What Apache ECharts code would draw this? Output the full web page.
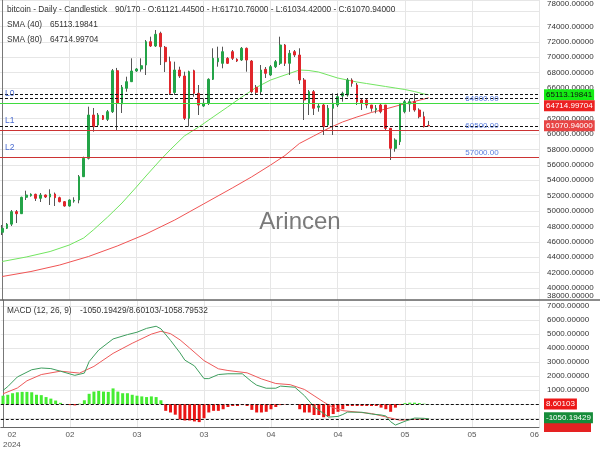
<!DOCTYPE html>
<html><head><meta charset="utf-8">
<script src="https://cdn.jsdelivr.net/npm/echarts@6/dist/echarts.min.js"></script>
<style>html,body{margin:0;padding:0;background:#fff}#c{width:600px;height:450px}</style>
</head><body><div id="c"></div>
<script>
// ---- data (day index 0 = 10 Feb 2024) ----
const opens  = [47231,47751,48290,49909,49649,51781,51990,52171,51651,52080,51820,52210,51729,51209,50650,51290,51430,54459,56851,62480,61180,62389,61921,62909,68239,63910,65951,66809,68200,68460,68980,72009,71450,73101,71281,69409,65400,68330,67550,62051,68240,65301,63650,64001,67121,69400,69200,69850,70710,69720,69630,71151,69500,66081,65509,68421,67680,68759,69201,71580,69201,70709,70280,67030,64001,65509,63481,63780,61180,63351,63780,64950,65080,67030,66380,64430,64430,63780,63130,63780,63780,60751,58151,59009,62909,63910,64209,63130,62259,61121.445];
const closes = [47751,48271,49909,49649,51781,52080,52171,51651,52080,51820,52210,51729,51209,50650,51430,51380,54459,56851,62480,60959,62480,61921,62909,68239,64001,66081,66809,68200,68460,68889,72009,71450,72971,71359,69409,65301,68330,67550,62051,68110,65301,63780,64001,67121,69851,69850,70710,69200,69850,69500,71151,69630,65509,65431,68330,67901,68759,69409,71580,69201,70501,70280,67030,64430,65509,63351,63650,60959,63351,64001,64859,65301,67030,66601,64209,64001,63780,63351,63351,62909,60751,58151,59230,64001,64209,64209,63130,62259,60959,61070.94];
const lows   = [46880,47660,48050,48440,49610,51430,51859,51300,51170,51690,50780,50650,51131,50559,50559,51080,51001,54420,56700,60309,60920,61830,61700,62740,60439,62740,65509,66770,68070,68109,67680,71320,71320,68980,68070,65080,65080,67300,61830,60959,64859,62480,63520,63780,67030,68760,68550,69110,69630,69370,69500,68109,65301,65080,65080,67290,67550,68590,68980,68850,67680,70020,66510,61830,62480,62480,62909,59880,60959,59880,63520,64209,64859,66159,63780,63130,63351,62909,62701,62701,60530,56630,57709,58580,62701,62900,62909,62051,60850,61034.42];
const highs  = [48180,48440,50130,50130,51859,52639,52301,52250,52340,52145,52821,52400,51859,51300,51521,51781,54680,57059,63559,63390,62740,62480,63130,68460,68600,66380,67459,69851,68590,69851,72230,72659,73530,73309,71450,70059,69409,68759,68110,68240,68370,66380,64651,67251,71151,71360,71360,70000,70930,69850,71320,71255,69630,66380,68980,68720,68980,69630,72659,71710,70930,70930,71151,67290,65730,65730,64001,64040,63780,65301,65301,65509,67290,67251,66640,64690,64651,63780,63780,64001,63780,60751,59451,64001,64430,64600,65301,63351,62909,61710.76];

const sma40Days = [0,5,10,14,17,19,22,25,28,30,33,35,38,41,44,47,50,53,56,59,62,64,66,68,70,72,74,76,78,80,82,84,86,88,89];
const sma40Vals = [43435,44020,44735,45580,46490,47530,49220,51040,53120,54550,56630,57930,59750,60920,62220,63507,64820,66055,67030,67680,68330,68265,68070,67680,67290,67030,66770,66575,66380,66185,65990,65795,65535,65210,65113.19841];
const sma80Days = [0,6,12,18,24,30,36,42,48,52,56,59,62,65,68,71,74,77,80,83,86,89];
const sma80Vals = [41485,42135,42980,44085,45450,47010,48830,50910,52990,54420,55980,57215,58775,59750,60725,61570,62220,62805,63260,63780,64235,64714.99704];

const macdDays = [0,1,3,6,8,10,12,15,17,18,20,23,26,28,30,32,33,35,37,38,40,42,43,45,47,50,52,53,55,57,58,61,63,65,67,68,70,71,72,75,77,79,80,81,82,84,86,88,89];
const macdVals = [973,1247,1932,2445,2569,2528,2343,2048,2206,3028,3850,4637,4946,5117,5391,5542,5357,4535,3644,3130,2720,1815,1815,2103,2158,2158,1589,1349,1130,1130,1281,1199,596,-192,-671,-925,-877,-740,-569,-582,-706,-774,-843,-1254,-1493,-1219,-993,-1014,-1050.19429];
const signalDays = [0,3,5,8,12,16,19,23,27,31,33,35,37,39,42,45,47,51,54,57,60,63,65,67,69,71,74,77,80,83,86,89];
const signalVals = [733,1144,1658,2103,2343,2206,2685,3610,4329,4980,5185,5014,4569,3987,3096,2514,2391,2226,1795,1466,1384,1041,596,151,-260,-466,-569,-671,-911,-1151,-1082,-1058.79532];
const histVals = [596,664,774,842,870,870,842,664,637,500,390,253,90,0,-70,-90,30,274,733,890,938,890,870,1117,890,774,774,664,596,548,500,548,500,274,-479,-596,-753,-1096,-1165,-1165,-1233,-1281,-1007,-596,-479,-479,-365,-205,-137,-137,-70,-137,-411,-596,-596,-548,-365,-205,-70,-20,0,0,-365,-596,-596,-776,-776,-936,-868,-708,-548,-365,-137,-137,-137,-137,-137,-137,-137,-251,-365,-548,-251,-70,70,100,100,70,30,8.60103];

const tickDays = [0,14,28,42,56,70,84,98,112];
const tickLabels = ['02','02','03','03','04','04','05','05','06'];
const yearLabel = '2024';

const sma40Last = 65113.19841, sma80Last = 64714.99704, lastClose = 61070.94;
const levels = [{name:'L0', value:64000, text:'64000.00', color:'#3fdc3f'},
                {name:'L1', value:60500, text:'60500.00', color:'#cc3333'},
                {name:'L2', value:57000, text:'57000.00', color:'#cc3333'}];
const macdLast = -1050.19429, histLast = 8.60103, signalLast = -1058.79532;

// ---- build ----
const FONT = '"Liberation Sans", Arial, sans-serif';
const UP = '#24a448', DOWN = '#e0262b';
const wickData = opens.map((o,i)=>[i,o,closes[i],lows[i],highs[i]]);
const bodyData = opens.map((o,i)=>[i,o,closes[i],Math.min(o,closes[i]),Math.max(o,closes[i])]);
const pair = (xs,ys)=>xs.map((x,i)=>[x,ys[i]]);

const xCommon = {type:'value', min:-0.46, max:112,
  axisTick:{show:false, customValues:tickDays},
  splitLine:{show:true, lineStyle:{color:'#e6e6e6', width:1}}};

const dashed = {color:'#111', width:1, type:[3,2]};
const option = {
  animation:false,
  backgroundColor:'#fff',
  grid:[{left:0, right:61, top:0, height:300},
        {left:0, right:61, top:300, height:132}],
  xAxis:[
    Object.assign({gridIndex:0}, xCommon, {axisLine:{show:false}, axisLabel:{show:false, customValues:tickDays}}),
    Object.assign({gridIndex:1}, xCommon, {
      axisLine:{show:true, onZero:false, lineStyle:{color:'#666', width:1}},
      axisLabel:{show:true, customValues:tickDays, color:'#555', fontSize:8, fontFamily:FONT, margin:3, lineHeight:10,
        alignMinLabel:'left', alignMaxLabel:'right',
        formatter:function(v){const k=tickDays.indexOf(Math.round(v)); if(k<0) return ''; return k===0?('  '+tickLabels[k]+'\n'+yearLabel):tickLabels[k];}}})
  ],
  yAxis:[
    {gridIndex:0, type:'value', position:'right', min:38430, max:77430, minInterval:2000, maxInterval:2000,
     axisLine:{show:true, lineStyle:{color:'#777', width:1}}, axisTick:{show:false},
     splitLine:{show:true, lineStyle:{color:'#e6e6e6'}},
     axisLabel:{color:'#333', fontSize:8, fontFamily:FONT, margin:8, showMinLabel:true, showMaxLabel:true,
       verticalAlignMinLabel:'bottom', verticalAlignMaxLabel:'top',
       formatter:function(v){ if(v%2000!==0){ v = v<50000 ? Math.floor(v/2000)*2000 : Math.ceil(v/2000)*2000; } return v.toFixed(5);} }},
    {gridIndex:1, type:'value', position:'right', min:-1630, max:7410, minInterval:1000, maxInterval:1000,
     axisLine:{show:true, lineStyle:{color:'#777', width:1}}, axisTick:{show:false},
     splitLine:{show:true, lineStyle:{color:'#e6e6e6'}},
     axisLabel:{color:'#333', fontSize:8, fontFamily:FONT, margin:8, showMinLabel:false, showMaxLabel:false,
       formatter:function(v){ return (v>=1000 && v%1000===0) ? v.toFixed(5) : ''; }}}
  ],
  series:[
    {type:'line', xAxisIndex:0, yAxisIndex:0, data:pair(sma80Days,sma80Vals), showSymbol:false, symbol:'none',
     lineStyle:{color:'#f05454', width:1}, silent:true, z:2},
    {type:'line', xAxisIndex:0, yAxisIndex:0, data:pair(sma40Days,sma40Vals), showSymbol:false, symbol:'none',
     lineStyle:{color:'#72e560', width:1}, silent:true, z:2},
    {type:'candlestick', xAxisIndex:0, yAxisIndex:0, data:wickData, barWidth:1, silent:true, z:3,
     itemStyle:{color:'#555', color0:'#555', borderColor:'#555', borderColor0:'#555', borderWidth:1}},
    {type:'candlestick', xAxisIndex:0, yAxisIndex:0, data:bodyData, barWidth:2.2, silent:true, z:4,
     itemStyle:{color:UP, color0:DOWN, borderColor:UP, borderColor0:DOWN, borderWidth:1},
     markLine:{silent:true, symbol:'none', animation:false,
       data:[
         {yAxis:sma40Last, lineStyle:dashed, label:{show:false}},
         {yAxis:sma80Last, lineStyle:dashed, label:{show:false}},
         {yAxis:lastClose, lineStyle:dashed, label:{show:false}},
       ].concat(levels.map(l=>({yAxis:l.value, lineStyle:{color:l.color, width:1, type:'solid'},
         label:{show:true, position:'insideStartTop', formatter:l.name, color:'#4a6bd0', fontSize:8.5, fontFamily:FONT, distance:5}})))}},
    {type:'bar', xAxisIndex:1, yAxisIndex:1, data:histVals.map((v,i)=>[i,v]), barWidth:3, silent:true,
     itemStyle:{color:function(p){return p.value[1]>=0?'#45ec32':'#ea1414';}}},
    {type:'line', xAxisIndex:1, yAxisIndex:1, data:pair(signalDays,signalVals), showSymbol:false, symbol:'none',
     lineStyle:{color:'#ee5a5a', width:1}, silent:true},
    {type:'line', xAxisIndex:1, yAxisIndex:1, data:pair(macdDays,macdVals), showSymbol:false, symbol:'none',
     lineStyle:{color:'#3e9e5e', width:1}, silent:true,
     markLine:{silent:true, symbol:'none', animation:false, label:{show:false},
       data:[{yAxis:histLast, lineStyle:dashed},{yAxis:macdLast, lineStyle:dashed}]}}
  ]
};
const chart = echarts.init(document.getElementById('c'), null, {renderer:'canvas'});
chart.setOption(option);

function py(v){ return chart.convertToPixel({yAxisIndex:0}, v); }
function my(v){ return chart.convertToPixel({yAxisIndex:1}, v); }
function txt(x,y,text,opts){ return Object.assign({type:'text', x:x, y:y, z:100, silent:true,
  style:Object.assign({text:text, fill:'#333', font:'8.3px '+FONT, align:'left', verticalAlign:'middle'}, opts||{})}); }
function tag(y,text,bg,fg){ return txt(544,y,text,{fill:fg, backgroundColor:bg, padding:[2,2,1,2], font:'8px '+FONT}); }

// price tags with overlap push
const ptags = [{v:sma40Last, t:sma40Last.toFixed(5), bg:'#14ec14', fg:'#111'},
               {v:sma80Last, t:sma80Last.toFixed(5), bg:'#ec2222', fg:'#fff'},
               {v:lastClose, t:lastClose.toFixed(5), bg:'#e84444', fg:'#fff'}];
let prevY = -100; const pg = [];
ptags.forEach(t=>{ let y = py(t.v); if (y < prevY + 11) y = prevY + 11; prevY = y; pg.push(tag(y,t.t,t.bg,t.fg)); });

const graphics = [
  {type:'line', z:90, silent:true, shape:{x1:0,y1:300,x2:600,y2:300}, style:{stroke:'#666', lineWidth:1.5}},
  txt(7,10,'bitcoin - Daily - Candlestick'),
  txt(115,10,'90/170 - O:' + opens[opens.length-1].toFixed(5) + ' - H:' + highs[highs.length-1].toFixed(5) + ' - L:' + lows[lows.length-1].toFixed(5) + ' - C:' + closes[closes.length-1].toFixed(5)),
  txt(7,25,'SMA (40)'), txt(50,25,sma40Last.toFixed(5)),
  txt(7,40,'SMA (80)'), txt(50,40,sma80Last.toFixed(5)),
  txt(7,311,'MACD (12, 26, 9)'), txt(80,311, macdLast.toFixed(5)+'/'+histLast.toFixed(5)+'/'+signalLast.toFixed(5)),
  txt(300,222,'Arincen',{font:'24px '+FONT, fill:'#7a7a7a', align:'center'}),
].concat(levels.map(l=>txt(482, py(l.value)-4.5, l.text, {fill:'#5a7ee0', font:'8px '+FONT, align:'center'})))
 .concat(pg)
 .concat([
   {type:'rect', z:99, silent:true, shape:{x:544, y:my(macdLast)+4, width:47, height:432-(my(macdLast)+4)}, style:{fill:'#e52222'}},
   tag(my(histLast), histLast.toFixed(5), '#ec1818', '#fff'),
   tag(my(macdLast)-1, macdLast.toFixed(5), '#168c3a', '#fff')
 ]);
chart.setOption({graphic:graphics});
</script></body></html>
